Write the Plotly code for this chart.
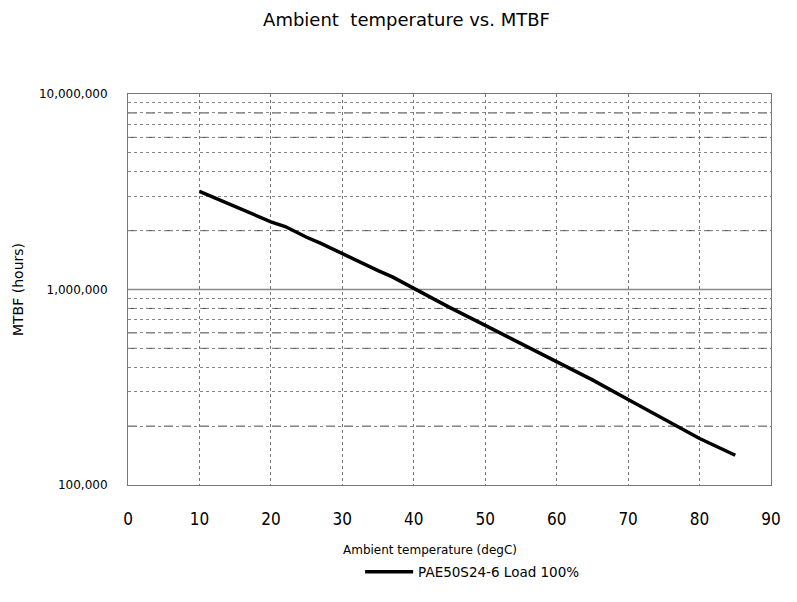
import plotly.graph_objects as go

# Data
temp_c = [10, 15, 20, 22, 25, 27, 30, 35, 37, 40, 45, 50, 55, 60, 65, 70, 75, 80, 85]
mtbf_hours = [3180000, 2650000, 2220000, 2100000, 1850000, 1720000, 1520000, 1250000,
              1160000, 1010000, 810000, 655000, 530000, 430000, 345000, 274000, 218000,
              173000, 142000]
series_name = "PAE50S24-6 Load 100%"
x_ticks = [0, 10, 20, 30, 40, 50, 60, 70, 80, 90]
y_ticks = [100000, 1000000, 10000000]
y_tick_text = ["100,000", "1,000,000", "10,000,000"]
y_minor = [2e5, 3e5, 4e5, 5e5, 6e5, 7e5, 8e5, 9e5, 2e6, 3e6, 4e6, 5e6, 6e6, 7e6, 8e6, 9e6]
dashed_grid = [200000, 500000, 600000, 800000, 2000000, 6000000, 8000000]

fig = go.Figure()
fig.add_trace(go.Scatter(
    x=temp_c, y=mtbf_hours, mode="lines", name=series_name,
    line=dict(color="black", width=3.5),
))

shapes = []
for v in dashed_grid:
    shapes.append(dict(type="line", xref="paper", x0=0, x1=1, yref="y", y0=v, y1=v,
                       line=dict(color="#444", width=1, dash="dash"), layer="below"))
shapes.append(dict(type="line", xref="paper", x0=0, x1=1, yref="y", y0=1000000, y1=1000000,
                   line=dict(color="#888", width=1.5), layer="below"))

fig.update_layout(
    width=797, height=602,
    margin=dict(l=120, r=34, t=86, b=125),
    paper_bgcolor="white", plot_bgcolor="white",
    title=dict(text="Ambient  temperature vs. MTBF", x=0.5, xanchor="center",
               y=0.980, yanchor="middle",
               font=dict(family="DejaVu Sans, sans-serif", size=18, color="black")),
    showlegend=True,
    legend=dict(orientation="h", x=0.361, xanchor="left", y=-0.2225, yanchor="middle",
                font=dict(family="DejaVu Sans, sans-serif", size=13.5, color="black"),
                itemwidth=48),
    shapes=shapes,
    annotations=[dict(text="Ambient temperature (degC)", xref="paper", yref="paper",
                      x=0.4697, y=-0.166, xanchor="center", yanchor="middle",
                      showarrow=False,
                      font=dict(family="DejaVu Sans, sans-serif", size=12, color="black"))],
)

fig.update_xaxes(
    range=[0, 90], tickvals=x_ticks, ticks="", ticklabelstandoff=19, automargin=False,
    tickfont=dict(family="Liberation Sans Narrow, DejaVu Sans Condensed, sans-serif", size=17, color="black"),
    showgrid=True, gridcolor="#777", griddash="dot", gridwidth=1,
    showline=True, linecolor="#777", linewidth=1, mirror=True, zeroline=False,
)
fig.update_yaxes(
    type="log", range=[5, 7], tickvals=y_ticks, ticktext=y_tick_text, ticks="",
    tickfont=dict(family="DejaVu Sans, sans-serif", size=12, color="black"),
    showgrid=False, automargin=False,
    minor=dict(showgrid=True, gridcolor="#888", griddash="dot", gridwidth=1, tickvals=y_minor),
    showline=True, linecolor="#777", linewidth=1, mirror=True, zeroline=False,
    ticklabelstandoff=17,
    title=dict(text="MTBF (hours)", standoff=11,
               font=dict(family="DejaVu Sans, sans-serif", size=14, color="black")),
)

fig.write_html("out.html")
